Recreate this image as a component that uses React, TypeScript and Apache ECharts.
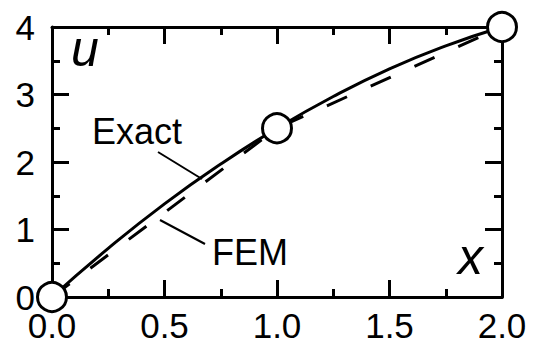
import React, { useEffect, useRef } from "react";
import * as echarts from "echarts";

const xTicks = [0, 0.5, 1, 1.5, 2];
const yTicks = [0, 1, 2, 3, 4];
const exactX = [0, 0.25, 0.5, 0.75, 1, 1.25, 1.5, 1.75, 2];
const exactU = [0, 0.72, 1.38, 1.97, 2.5, 2.97, 3.38, 3.72, 4];
const femX = [0, 1, 2];
const femU = [0, 2.5, 4];

const FONT = "Liberation Sans, Arial, sans-serif";

export default function App() {
  const ref = useRef<HTMLDivElement>(null);
  useEffect(() => {
    if (!ref.current) return;
    const chart = echarts.init(ref.current, undefined, { renderer: "svg" });
    const axisCommon = {
      type: "value" as const,
      axisLine: { show: true, onZero: false, lineStyle: { color: "#000", width: 3 } },
      axisTick: { show: true, inside: true, length: 17, lineStyle: { color: "#000", width: 3 } },
      minorTick: { show: true, splitNumber: 2, length: 8, lineStyle: { color: "#000", width: 3 } },
      splitLine: { show: false },
      minorSplitLine: { show: false },
    };
    const xMin = xTicks[0];
    const xMax = xTicks[xTicks.length - 1];
    const yMin = yTicks[0];
    const yMax = yTicks[yTicks.length - 1];
    chart.setOption({
      animation: false,
      backgroundColor: "#fff",
      grid: { left: 52, right: 31, top: 27, bottom: 54, containLabel: false },
      xAxis: [
        {
          ...axisCommon,
          position: "bottom",
          min: xMin,
          max: xMax,
          interval: 0.5,
          axisLabel: {
            show: true,
            color: "#000",
            fontFamily: FONT,
            fontSize: 35,
            lineHeight: 30,
            margin: 13,
            formatter: (v: number) => v.toFixed(1),
          },
        },
        {
          ...axisCommon,
          position: "top",
          min: xMin,
          max: xMax,
          interval: 0.5,
          axisLabel: { show: false },
        },
      ],
      yAxis: [
        {
          ...axisCommon,
          position: "left",
          min: yMin,
          max: yMax,
          interval: 1,
          axisLabel: {
            show: true,
            color: "#000",
            fontFamily: FONT,
            fontSize: 35,
            lineHeight: 20,
            margin: 17,
          },
        },
        {
          ...axisCommon,
          position: "right",
          min: yMin,
          max: yMax,
          interval: 1,
          axisLabel: { show: false },
        },
      ],
      series: [
        {
          type: "line",
          name: "FEM",
          data: femX.map((x, i) => [x, femU[i]]),
          showSymbol: false,
          lineStyle: { color: "#000", width: 3, type: [22, 26] },
          z: 2,
        },
        {
          type: "line",
          name: "Exact",
          smooth: true,
          data: exactX.map((x, i) => [x, exactU[i]]),
          showSymbol: false,
          lineStyle: { color: "#000", width: 3 },
          z: 3,
        },
        {
          type: "scatter",
          name: "Nodes",
          data: femX.map((x, i) => [x, femU[i]]),
          symbol: "circle",
          symbolSize: 29,
          itemStyle: { color: "#fff", borderColor: "#000", borderWidth: 3, opacity: 1 },
          z: 5,
          clip: false,
        },
      ],
      graphic: [
        {
          type: "text",
          left: 92,
          top: 113,
          style: { text: "Exact", fill: "#000", font: `36px ${FONT}` },
          z: 10,
        },
        {
          type: "text",
          left: 212,
          top: 234,
          style: { text: "FEM", fill: "#000", font: `36px ${FONT}` },
          z: 10,
        },
        {
          type: "text",
          left: 71,
          top: 24,
          style: { text: "u", fill: "#000", font: `italic 50px ${FONT}` },
          z: 10,
        },
        {
          type: "text",
          left: 458,
          top: 232,
          style: { text: "x", fill: "#000", font: `italic 50px ${FONT}` },
          z: 10,
        },
        {
          type: "line",
          shape: { x1: 158, y1: 152, x2: 202, y2: 179 },
          style: { stroke: "#000", lineWidth: 2 },
          z: 10,
        },
        {
          type: "line",
          shape: { x1: 160, y1: 220, x2: 205, y2: 244 },
          style: { stroke: "#000", lineWidth: 2 },
          z: 10,
        },
      ],
    });
    return () => chart.dispose();
  }, []);
  return <div ref={ref} style={{ width: 533, height: 351, position: "absolute", left: 0, top: 0 }} />;
}
